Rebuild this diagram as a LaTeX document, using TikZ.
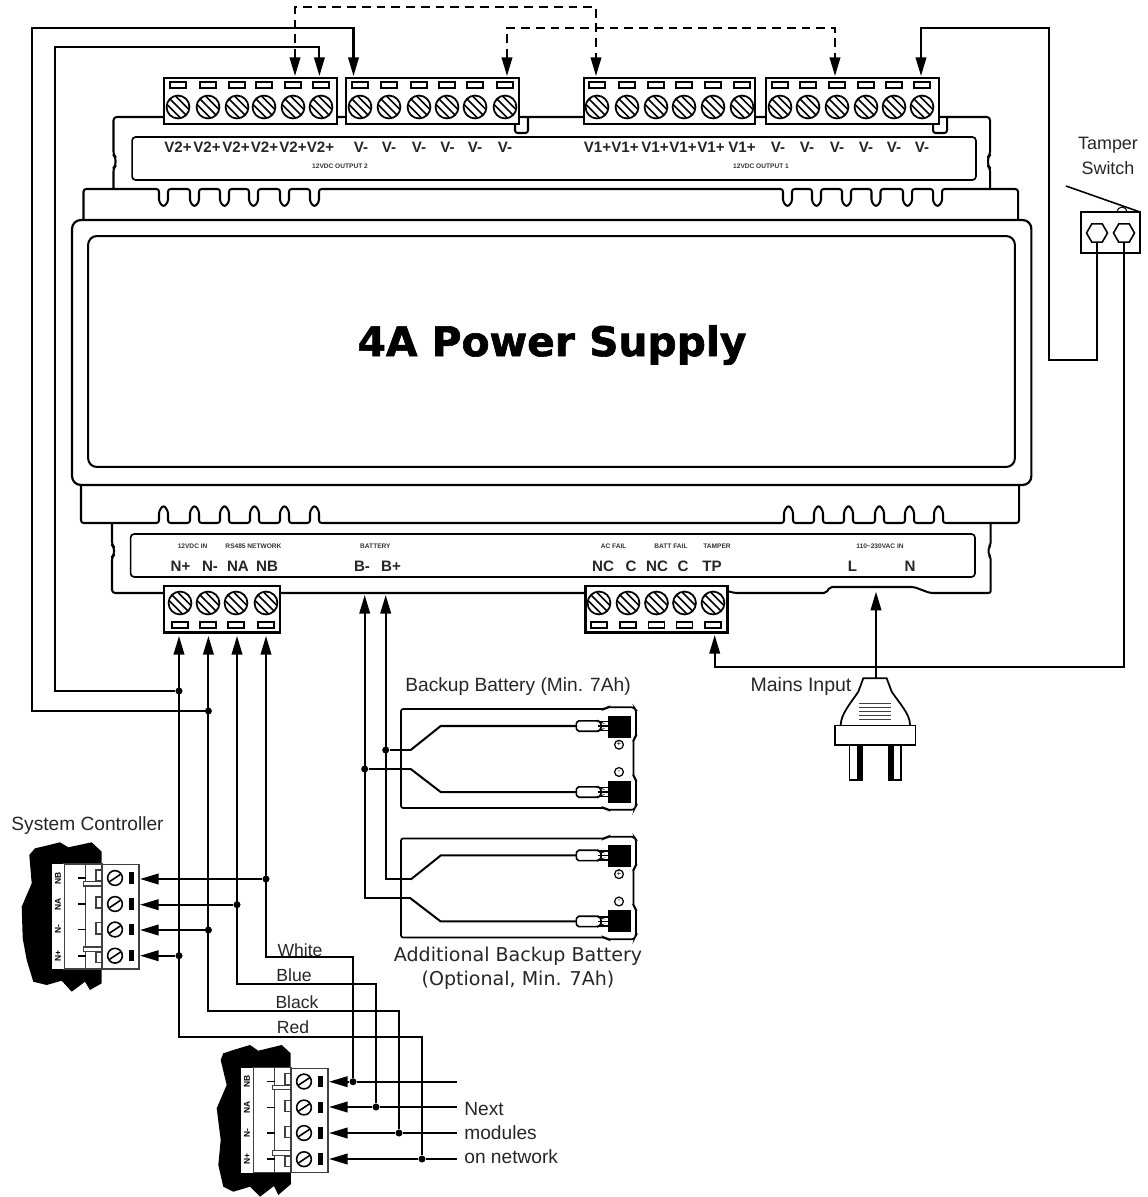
\documentclass[tikz,border=0pt]{standalone}
\usepackage{fontspec}
\setmainfont{Liberation Sans}
\newfontfamily\dejavu{DejaVu Sans}
\newfontfamily\heavyfont[UprightFont={* Bold},FakeBold=1.6]{DejaVu Sans}
\usepackage{tikz}
\usetikzlibrary{arrows.meta,shapes.geometric}

\tikzset{
  body/.style={line width=1.15pt, line join=round},
  tblock/.style={draw, line width=1.2pt, fill=white, inner sep=0pt},
  screw/.style={circle, draw, line width=1pt, fill=white, inner sep=0pt, minimum size=13pt,
    path picture={\foreach \d in {-2.4,0,2.4}
      \draw[line width=0.9pt] ([xshift=\d pt-7pt,yshift=\d pt+7pt]path picture bounding box.center) -- ([xshift=\d pt+7pt,yshift=\d pt-7pt]path picture bounding box.center);}},
  slot/.style={draw, line width=0.8pt, fill=white, inner sep=0pt, minimum width=9pt, minimum height=3.6pt},
  wire/.style={line width=1.15pt},
  arr/.style={-{Triangle[length=10.6pt,width=6pt]}},
  darr/.style={{Triangle[length=10.6pt,width=6pt]}-{Triangle[length=10.6pt,width=6pt]}},
  dashwire/.style={line width=1.15pt, dash pattern=on 5pt off 3.4pt},
  jdot/.style={circle, fill=black, inner sep=0pt, minimum size=4pt},
  lbl/.style={font=\fontsize{10.9}{13}\selectfont, text=black!85, inner sep=0pt},
  verdana/.style={font=\dejavu\fontsize{10.85}{13}\selectfont, text=black!85, inner sep=0pt},
  term/.style={font=\fontsize{8.6}{10}\selectfont\bfseries, text=black!85, inner sep=0pt},
  micro/.style={font=\fontsize{3.75}{4.5}\selectfont\bfseries, text=black!80, inner sep=0pt},
  thinln/.style={line width=0.6pt, draw=black!75},
  tab/.style={font=\fontsize{4.8}{5.5}\selectfont\bfseries, inner sep=0pt, rotate=90},
  ctscrew/.style={circle, draw, line width=0.9pt, fill=white, inner sep=0pt, minimum size=8.4pt,
    path picture={\draw[line width=0.9pt] ([xshift=-4.5pt,yshift=-3pt]path picture bounding box.center) -- ([xshift=4.5pt,yshift=3pt]path picture bounding box.center);}}
}

\newcommand{\tbrow}[4]{\foreach \x [count=\i] in {#4} {
  \node (scr#1\i) at (\x,#2) [screw]{};
  \node (slot#1\i) at (\x,#3) [slot]{};
}}

\newcommand{\controller}[1]{
  \draw[thinln, fill=white] (64,864) rectangle (85.7,969);
  \draw[thinln, fill=white] (85.7,864) rectangle (102,969);
  \fill[white] (52.3,864) rectangle (64,969.3);
  \draw[thinln, fill=white] (102,864.7) rectangle (139,969);
  \draw[thinln, fill=white] (96,870) rectangle (102,880.7);
  \draw[thinln, fill=white] (96,897) rectangle (102,908);
  \draw[thinln, fill=white] (96,922.7) rectangle (102,934);
  \draw[thinln, fill=white] (96,952.7) rectangle (102,962.7);
  \draw[thinln, fill=white] (83.5,881.7) rectangle (102,886);
  \draw[thinln, fill=white] (83.5,947) rectangle (102,951.7);
  \foreach \y/\t [count=\i] in {878/NB,904/NA,929.5/N-,955.7/N+} {
    \draw[line width=0.9pt] (78,\y) -- (85.5,\y);
    \node (#1s\i) at (115,\y) [ctscrew]{};
    \fill (128.7,\y-6) rectangle (134,\y+5.5);
    \node (#1t\i) at (58,\y) [tab]{\t};
  }
}

\newcommand{\battery}[1]{
  \draw[line width=0.95pt, rounded corners=1.2pt] (401,709) -- (605,709) -- (607,707.3) -- (634,707.3) -- (636,710) -- (636,737) -- (633.5,739) -- (633.5,777) -- (636,779) -- (636,806) -- (634,809.7) -- (607,809.7) -- (605,808) -- (401,808) -- cycle;
  \coordinate (#1p) at (410.7,750);
  \coordinate (#1m) at (410.7,769);
  \foreach \s/\y/\by in {p/726/727,m/792/792} {
    \coordinate (#1\s b) at (440.7,\y);
    \coordinate (#1\s c) at (576,\y);
    \draw[wire] (#1\s) -- (#1\s b) -- (#1\s c);
    \draw[line width=0.9pt, rounded corners=1pt, fill=white] (#1\s c) -- (577,\y-5.2) -- (598,\y-5.2) -- (601,\y-3.5) -- (601,\y+3.5) -- (598,\y+5.2) -- (577,\y+5.2) -- cycle;
    \foreach \d in {-4.5,0,4.5} \draw[line width=0.9pt] (598,\y+\d) -- (610,\y+\d);
    \fill (608,\by-11) rectangle (631,\by+11);
  }
  \node (#1plus) at (619,744.7) [circle, draw, line width=0.7pt, inner sep=0pt, minimum size=5pt, font=\fontsize{4.5}{5}\selectfont]{+};
  \node (#1minus) at (619,772) [circle, draw, line width=0.7pt, inner sep=0pt, minimum size=5pt, font=\fontsize{4.5}{5}\selectfont]{-};
}

\begin{document}
\begin{tikzpicture}[x=0.02cm,y=-0.02cm]
\useasboundingbox (0,0) rectangle (1148,1197);

\draw[body, rounded corners=1.8pt] (113.5,189) -- (113.5,168) -- (115.5,166) -- (115.5,157) -- (113.5,155) -- (113.5,117) -- (990,117) -- (990,155) -- (988,157) -- (988,166) -- (990,168) -- (990,189);
\draw[body, rounded corners=1.5pt] (515,124) -- (515,133) -- (528,133) -- (528,117);
\draw[body, rounded corners=1.5pt] (933,124) -- (933,133) -- (947,133) -- (947,117);
\node (stripT) at (554,158.5) [draw, line width=0.95pt, rounded corners=2pt, minimum width=16.88cm, minimum height=0.86cm]{};
\draw[body, rounded corners=1.5pt] (83.5,220) -- (83.5,189)
  foreach \a in {159,190,220,249,280,310,783,812,842,871.5,903,933} { -- (\a,189) -- (\a,202) -- (\a+4.5,207) -- (\a+9,202) -- (\a+9,189) }
  -- (1018,189) -- (1018,220);
\node (caseOut) at (551.7,352.5) [draw, line width=1.25pt, rounded corners=5pt, minimum width=19.19cm, minimum height=5.3cm]{};
\node (caseIn) at (551.5,351.5) [draw, line width=1.15pt, rounded corners=5pt, minimum width=18.54cm, minimum height=4.62cm]{};
\draw[body, rounded corners=1.5pt] (81,485) -- (81,523)
  foreach \a in {159,190,220,250,280,310,784,814,844,875,905,934} { -- (\a,523) -- (\a,511) -- (\a+4.5,505) -- (\a+9,511) -- (\a+9,523) }
  -- (1019,523) -- (1019,485);
\draw[body, rounded corners=1.8pt] (112,523) -- (112,545) -- (114,547) -- (114,555) -- (112,557) -- (112,593) -- (586,593);
\draw[body, rounded corners=1.2pt] (727,591) -- (735,593) -- (826,593) -- (830,587) -- (914,587) -- (930,593) -- (990.7,593) -- (990.7,557) -- (988.7,555) -- (988.7,547) -- (990.7,545) -- (990.7,523);
\node (stripB) at (552.8,555.5) [draw, line width=0.95pt, rounded corners=2pt, minimum width=16.89cm, minimum height=0.86cm]{};

\node (tbA) at (250.5,101) [tblock, minimum width=3.46cm, minimum height=0.92cm]{};
\node (tbB) at (432.5,101) [tblock, minimum width=3.46cm, minimum height=0.92cm]{};
\node (tbC) at (669.5,101) [tblock, minimum width=3.42cm, minimum height=0.92cm]{};
\node (tbD) at (852.5,101) [tblock, minimum width=3.46cm, minimum height=0.92cm]{};
\node (tbE) at (222,609.3) [tblock, minimum width=2.32cm, minimum height=0.93cm]{};
\node (tbF) at (656.5,609.3) [tblock, minimum width=2.84cm, minimum height=0.93cm]{};
\tbrow{A}{107}{85}{178,208,237,264,293,321}
\tbrow{B}{107}{85}{360,389,419,447,475,505}
\tbrow{C}{107}{85}{597,627,656,684,713,742}
\tbrow{D}{107}{85}{780,808,837,866,894,922}
\tbrow{E}{603}{625}{180,208,236,266}
\tbrow{F}{603}{625}{599,628,656.5,684.5,713}

\foreach \x [count=\i] in {178,207,236,264.5,293,320.5} \node (lbA\i) at (\x,147) [term]{V2+};
\foreach \x [count=\i] in {361,389,419,447.6,475,505} \node (lbB\i) at (\x,147) [term]{V-};
\foreach \x [count=\i] in {597.5,625,655,683,711,742} \node (lbC\i) at (\x,147) [term]{V1+};
\foreach \x [count=\i] in {778,807,837,866,894,922} \node (lbD\i) at (\x,147) [term]{V-};
\foreach \x/\t [count=\i] in {180.5/N+,210/N-,238/NA,267/NB,362/B-,391/B+,603/NC,631/C,657/NC,683/C,712/TP,852.5/L,910/N} \node (lbE\i) at (\x,566) [term]{\t};
\node (mcOut2) at (340,166.7) [micro]{12VDC OUTPUT 2};
\node (mcOut1) at (761,166.7) [micro]{12VDC OUTPUT 1};
\foreach \x/\t [count=\i] in {192.6/12VDC IN,253.5/RS485  NETWORK,375.4/BATTERY,613.6/AC FAIL,671/BATT FAIL,717/TAMPER,880/110\textasciitilde 230VAC IN} \node (mcE\i) at (\x,546.7) [micro]{\t};
\node (title) at (552,345) [font=\heavyfont\fontsize{23.2}{28}\selectfont, inner sep=0pt]{4A Power Supply};

\node (tamperBox) at (1110.5,232.5) [draw, line width=0.6pt, minimum width=1.18cm, minimum height=0.82cm]{};
\node (hexL) at (1097,233) [regular polygon, regular polygon sides=6, draw, line width=0.9pt, inner sep=0pt, minimum size=0.42cm]{};
\node (hexR) at (1124,233) [regular polygon, regular polygon sides=6, draw, line width=0.9pt, inner sep=0pt, minimum size=0.42cm]{};
\coordinate (levA) at (1066,186);
\coordinate (levB) at (1140,212);
\draw[line width=0.9pt] (levA) -- (levB);
\draw[line width=0.6pt] (1117,212) arc[start angle=180, end angle=360, radius=5];
\node (tamperTx) at (1108,145) [lbl, font=\fontsize{10.2}{12}\selectfont]{Tamper};
\node (switchTx) at (1108,168) [lbl, font=\fontsize{10.2}{12}\selectfont]{Switch};

\coordinate (tipV2p) at (319.4,76);
\coordinate (tipV2m) at (353.5,76);
\coordinate (tipDa) at (295,76);
\coordinate (tipDb) at (596,76);
\coordinate (tipDc) at (507,76);
\coordinate (tipDd) at (835,76);
\coordinate (tipV1m) at (921,76);
\coordinate (cDa) at (596,6.7);
\coordinate (cDc) at (835,27.7);
\draw[dashwire, darr] (tipDa) |- (cDa) -- (tipDb);
\draw[dashwire, darr] (tipDc) |- (cDc) -- (tipDd);

\node (dotNp) at (179,691) [jdot]{};
\node (dotNm) at (208.4,711) [jdot]{};
\coordinate (cL1) at (55,47);
\coordinate (cL2) at (32,28);
\draw[wire, arr] (dotNp) -| (cL1) -| (tipV2p);
\draw[wire, arr] (dotNm) -| (cL2) -| (tipV2m);

\coordinate (wT1) at (1049,360);
\coordinate (wT2) at (1049,28);
\coordinate (wTP) at (714.7,666.7);
\coordinate (tipTP) at (714.7,635);
\draw[wire, arr] (hexL.south) |- (wT1) -- (wT2) -| (tipV1m);
\draw[wire, arr] (hexR.south) |- (wTP) -- (tipTP);

\fill (29.3,855) -- (35,848.3) -- (45,846) -- (60,842.3) -- (68.3,847.3) -- (91.7,842.3) -- (101.7,851.7) -- (101.7,983.3) -- (90,990) -- (85,981.7) -- (71.7,991.7) -- (61.7,980.7) -- (46.7,985) -- (33.3,981.7) -- (26.7,960) -- (22.7,938.3) -- (21.7,906.7) -- (31.7,883.3) -- cycle;
\controller{sc}
\node (sysTx) at (87.5,825.7) [lbl]{System Controller};
\fill (220.7,1060) -- (223.3,1053.3) -- (233.3,1050) -- (250,1045) -- (258.3,1050.7) -- (281.7,1045) -- (290.7,1053.3) -- (291,1184) -- (278.3,1195) -- (274,1186) -- (260,1196.7) -- (250,1186.7) -- (233.3,1191.7) -- (223.3,1186.7) -- (218.3,1165) -- (220.7,1140) -- (216.7,1108.3) -- (226.7,1085) -- cycle;
\begin{scope}[shift={(189,203.5)}]
\controller{nm}
\end{scope}

\foreach \n/\x/\ys/\ym/\ye/\xc in {NB/266/879/1081.7/957/353,NA/237/904.7/1107/984/376,Nm/208.4/930/1133/1011/399,Np/179/955.7/1159/1037/422} {
  \coordinate (tip\n) at (\x,636);
  \coordinate (tipS\n) at (140,\ys);
  \coordinate (tipM\n) at (329,\ym);
  \coordinate (end\n) at (457,\ym);
  \coordinate (cor\n) at (\x,\ye);
  \node (dotS\n) at (\x,\ys) [jdot]{};
  \node (dotM\n) at (\xc,\ym) [jdot]{};
  \draw[wire, arr] (dotM\n) |- (cor\n) -- (tip\n);
  \draw[wire, arr] (dotS\n) -- (tipS\n);
  \draw[wire, arr] (dotM\n) -- (tipM\n);
  \draw[wire] (dotM\n) -- (end\n);
}
\foreach \x/\y/\t in {300/950/White,294/975/Blue,297/1002/Black,293/1027/Red} \node (lb\t) at (\x,\y) [lbl, font=\fontsize{10}{12}\selectfont]{\t};
\foreach \y/\t [count=\i] in {1109/Next,1133/modules,1157/on network} \node (nxtTx\i) at (464,\y) [lbl, anchor=west]{\t};

\battery{ba}
\begin{scope}[yshift=-2.59cm]
\battery{bc}
\end{scope}
\coordinate (tipBm) at (364.7,595);
\coordinate (tipBp) at (385.7,595);
\node (dotBm) at (364.7,769) [jdot]{};
\node (dotBp) at (385.7,750) [jdot]{};
\draw[wire, arr] (bcm) -| (tipBm);
\draw[wire, arr] (bcp) -| (tipBp);
\draw[wire] (dotBm) -- (bam);
\draw[wire] (dotBp) -- (bap);
\node (batTx) at (518,687) [lbl]{Backup Battery (Min. 7Ah)};
\node (addTx) at (518,956) [verdana]{Additional Backup Battery};
\node (optTx) at (518,980) [verdana]{(Optional, Min. 7Ah)};

\coordinate (tipL) at (876,591.7);
\coordinate (plugTop) at (876,678.3);
\draw[wire, arr] (plugTop) -- (tipL);
\draw[line width=1pt] (840.7,725) .. controls (841,714) and (850,704) .. (858.3,691.7) -- (863.3,678.3) -- (886.7,678.3) -- (891.7,691.7) .. controls (900,704) and (910,714) .. (910,725);
\foreach \y in {703.3,707.3,711.3,715.3,719.3} \draw[line width=0.7pt, black!75] (859.3,\y) -- (891,\y);
\node (plugBase) at (875.3,735.3) [draw, line width=1pt, minimum width=1.61cm, minimum height=0.39cm]{};
\node (prongL) at (855.8,762.5) [draw, line width=0.8pt, minimum width=0.26cm, minimum height=0.7cm]{};
\node (prongR) at (895,762.5) [draw, line width=0.8pt, minimum width=0.24cm, minimum height=0.7cm]{};
\fill (856.7,745) rectangle (862.5,780);
\fill (889,745) rectangle (894,780);
\node (mainsTx) at (801,686) [lbl, font=\fontsize{11.1}{13}\selectfont]{Mains Input};
\end{tikzpicture}
\end{document}
